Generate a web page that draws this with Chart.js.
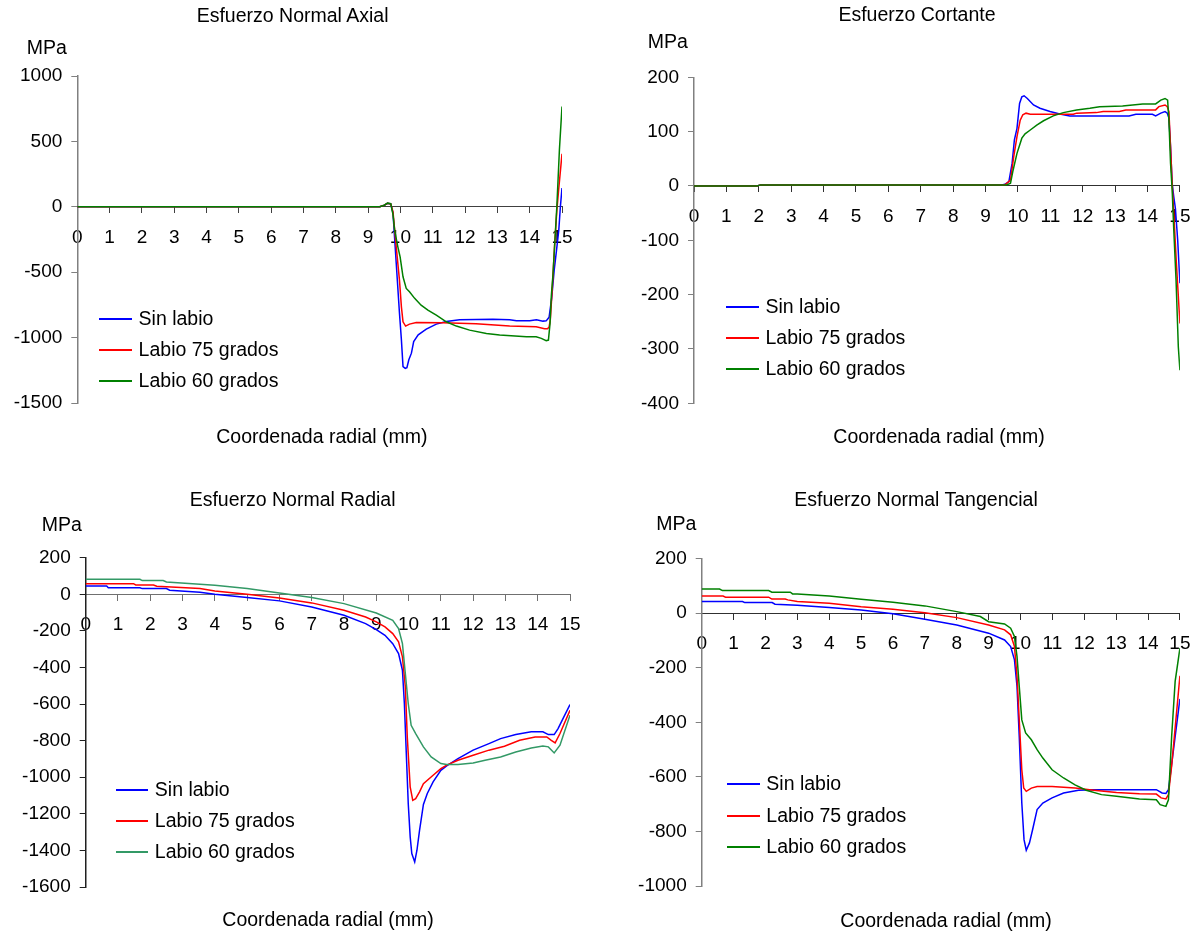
<!DOCTYPE html>
<html>
<head>
<meta charset="utf-8">
<script src="https://cdn.jsdelivr.net/npm/chart.js@4.4.1/dist/chart.umd.min.js"></script>
<style>
  html, body { margin: 0; padding: 0; background: #fff; }
  body { width: 1204px; height: 935px; position: relative; overflow: hidden;
         font-family: "Liberation Sans", Arial, sans-serif; color: #000; }
  canvas { position: absolute; }
  .txt { position: absolute; font-size: 19.5px; line-height: 1; white-space: nowrap;
         transform: translate(-50%, -50%); }
  .legtxt { position: absolute; font-size: 19.5px; line-height: 1; white-space: nowrap;
            transform: translateY(-50%); }
  .legline { position: absolute; height: 2px; transform: translateY(-50%); }
</style>
</head>
<body>
<script>
// ---- Series names ----
const seriesLabels = ['Sin labio', 'Labio 75 grados', 'Labio 60 grados'];

// ---- Esfuerzo Normal Axial (MPa vs mm) ----
const axialSinX = [0, 9.36, 9.5, 9.6, 9.7, 9.77, 9.87, 9.97, 10.03, 10.08, 10.15, 10.2, 10.26, 10.34, 10.41, 10.55, 10.8, 11.11, 11.42, 11.83, 12.86, 13.38, 13.59, 14.0, 14.21, 14.41, 14.51, 14.6, 14.68, 14.76, 14.82, 14.9, 14.95, 15.0];
const axialSinY = [0, 0, 12, 27, 22, -48, -431, -813, -1017, -1221, -1235, -1230, -1170, -1119, -1030, -979, -935, -897, -877, -864, -859, -864, -872, -872, -864, -874, -872, -845, -700, -480, -354, -180, 0, 143];
const axial75X = [0, 9.36, 9.5, 9.6, 9.7, 9.77, 9.87, 9.97, 10.03, 10.08, 10.16, 10.28, 10.49, 11.31, 12.34, 13.38, 14.2, 14.46, 14.55, 14.6, 14.64, 14.7, 14.77, 14.84, 14.9, 15.0];
const axial75Y = [0, 0, 12, 27, 22, -38, -306, -561, -765, -879, -912, -897, -884, -887, -894, -912, -917, -932, -932, -920, -860, -620, -300, -30, 140, 405];
const axial60X = [0, 9.36, 9.5, 9.6, 9.7, 9.77, 9.82, 9.92, 9.99, 10.08, 10.18, 10.28, 10.44, 10.64, 10.85, 11.11, 11.42, 11.73, 12.14, 12.66, 13.07, 13.9, 14.2, 14.36, 14.51, 14.58, 14.63, 14.67, 14.72, 14.78, 14.84, 14.92, 15.0];
const axial60Y = [0, 0, 12, 28, 24, -60, -178, -306, -383, -535, -624, -650, -700, -752, -790, -828, -879, -912, -943, -968, -981, -994, -994, -1006, -1024, -1019, -891, -680, -520, -260, 0, 436, 767];

// ---- Esfuerzo Cortante ----
const cortSinX = [0, 1.95, 2.05, 9.5, 9.6, 9.72, 9.82, 9.89, 9.97, 10.05, 10.12, 10.19, 10.29, 10.48, 10.68, 10.99, 11.29, 11.6, 12.41, 13.43, 13.64, 14.15, 14.25, 14.41, 14.54, 14.61, 14.66, 14.71, 14.76, 14.81, 14.86, 14.93, 15.0];
const cortSinY = [0, 0, 2, 2, 3, 8, 42, 85, 106, 152, 164, 166, 161, 149, 143, 137, 132.5, 129, 129, 129, 132, 132, 129, 134, 137, 134, 125, 72, 5, -20, -41, -99, -179];
const cort75X = [0, 1.95, 2.05, 9.6, 9.77, 9.87, 9.97, 10.07, 10.15, 10.25, 10.38, 10.79, 11.71, 11.81, 12.42, 12.63, 13.13, 13.33, 14.25, 14.35, 14.54, 14.61, 14.66, 14.71, 14.76, 14.81, 14.89, 15.0];
const cort75Y = [0, 0, 2, 2, 11, 54, 91, 121, 131, 134, 132, 132, 132, 134, 135, 137, 137, 140, 140, 146, 149, 146, 137, 72, 5, -50, -142, -253];
const cort60X = [0, 1.95, 2.05, 9.65, 9.77, 9.85, 9.97, 10.12, 10.22, 10.38, 10.58, 10.79, 11.09, 11.4, 11.81, 12.22, 12.52, 13.23, 13.85, 14.25, 14.41, 14.54, 14.62, 14.66, 14.71, 14.76, 14.81, 14.88, 14.95, 15.0];
const cort60Y = [0, 0, 2, 2, 5, 29, 60, 88, 96, 103, 112, 120, 129, 135, 140, 143, 146, 147, 151, 151, 158, 161, 158, 121, 42, -7, -81, -173, -296, -339];

// ---- Esfuerzo Normal Radial ----
const radSinX = [0, 0.65, 0.7, 1.68, 1.75, 2.5, 2.6, 3.54, 4.0, 5.0, 6.0, 7.0, 8.0, 8.67, 9.0, 9.27, 9.51, 9.69, 9.81, 9.87, 9.93, 9.99, 10.05, 10.1, 10.19, 10.26, 10.34, 10.46, 10.58, 10.76, 11.0, 11.18, 11.53, 12.0, 12.49, 12.85, 13.32, 13.8, 14.16, 14.33, 14.51, 14.63, 14.81, 15.0];
const radSinY = [45, 45, 36, 36, 31, 31, 22, 11, 0, -18, -36, -69, -115, -160, -193, -224, -270, -324, -415, -597, -871, -1144, -1326, -1417, -1463, -1399, -1290, -1149, -1089, -1025, -962, -938, -898, -852, -816, -789, -767, -752, -752, -767, -767, -734, -670, -603];
const rad75X = [0, 1.48, 1.55, 2.1, 2.2, 3.54, 4.0, 5.0, 6.0, 7.0, 8.0, 8.67, 9.0, 9.27, 9.51, 9.69, 9.81, 9.9, 9.96, 10.05, 10.13, 10.22, 10.34, 10.46, 10.76, 11.0, 11.18, 11.53, 12.0, 12.49, 12.97, 13.44, 13.92, 14.28, 14.42, 14.54, 14.69, 15.0];
const rad75Y = [58, 58, 51, 51, 44, 31, 18, 0, -20, -47, -87, -124, -151, -178, -215, -260, -342, -506, -780, -1053, -1126, -1117, -1080, -1035, -989, -953, -934, -907, -880, -852, -831, -798, -780, -780, -798, -812, -761, -634];
const rad60X = [0, 1.68, 1.75, 2.4, 2.5, 4.0, 5.0, 6.0, 7.0, 8.0, 9.0, 9.51, 9.69, 9.81, 9.89, 9.99, 10.08, 10.22, 10.46, 10.7, 11.0, 11.18, 11.53, 12.0, 12.37, 12.85, 13.32, 13.8, 14.16, 14.33, 14.51, 14.69, 15.0];
const rad60Y = [82, 82, 75, 75, 67, 49, 31, 7, -18, -51, -102, -142, -188, -270, -415, -597, -716, -761, -834, -889, -925, -931, -931, -922, -907, -889, -862, -840, -829, -834, -867, -825, -661];

// ---- Esfuerzo Normal Tangencial ----
const tanSinX = [0, 1.28, 1.35, 2.21, 2.3, 3.0, 4.0, 5.0, 6.0, 7.0, 8.0, 9.0, 9.5, 9.69, 9.81, 9.89, 9.96, 10.04, 10.11, 10.18, 10.28, 10.38, 10.52, 10.7, 10.99, 11.35, 11.82, 12.3, 13.48, 14.26, 14.44, 14.56, 14.64, 14.82, 15.0];
const tanSinY = [43, 43, 39, 39, 33, 29, 21, 12, -2, -22, -43, -73, -98, -122, -171, -268, -452, -696, -830, -869, -842, -793, -720, -696, -677, -659, -649, -647, -647, -647, -659, -661, -647, -480, -314];
const tan75X = [0, 0.67, 0.75, 2.1, 2.2, 2.62, 2.7, 3.0, 4.0, 5.0, 6.0, 7.0, 8.0, 9.0, 9.5, 9.69, 9.81, 9.89, 9.96, 10.04, 10.1, 10.18, 10.34, 10.52, 10.99, 11.71, 12.3, 13.01, 13.73, 14.26, 14.41, 14.56, 14.64, 14.74, 14.85, 15.0];
const tan75Y = [63, 63, 59, 59, 52, 52, 49, 43, 37, 24, 15, 2, -16, -43, -61, -79, -122, -232, -391, -574, -641, -653, -641, -635, -635, -641, -649, -657, -662, -663, -677, -681, -665, -560, -420, -229];
const tan60X = [0, 0.56, 0.65, 2.1, 2.2, 2.78, 2.85, 3.0, 4.0, 5.0, 6.0, 7.0, 8.0, 8.74, 9.0, 9.5, 9.69, 9.81, 9.89, 9.96, 10.04, 10.16, 10.34, 10.52, 10.7, 10.99, 11.35, 11.71, 12.06, 12.54, 13.01, 13.73, 14.26, 14.38, 14.56, 14.64, 14.74, 14.85, 15.0];
const tan60Y = [89, 89, 83, 83, 77, 77, 71, 71, 63, 51, 40, 27, 6, -12, -31, -39, -55, -85, -159, -268, -391, -439, -464, -500, -531, -574, -604, -629, -649, -665, -671, -681, -684, -702, -708, -684, -452, -250, -128];

// ---- Axis ranges and tick steps ----
const xRange = [0, 15];
const xStep = 1;
const axialRange = [-1500, 1000], axialStep = 500;
const cortRange = [-400, 200], cortStep = 100;
const radRange = [-1600, 200], radStep = 200;
const tanRange = [-1000, 200], tanStep = 200;

// ---- Panel layout (page pixels) ----
const FONT = '"Liberation Sans", Arial, sans-serif';
const BLUE = '#0000FF', RED = '#FF0000', GREEN = '#008000', SEAGREEN = '#339966';

const panels = [
  { title: 'Esfuerzo Normal Axial', range: axialRange, step: axialStep,
    series: [[axialSinX, axialSinY], [axial75X, axial75Y], [axial60X, axial60Y]],
    colors: [BLUE, RED, GREEN], yAxisColor: '#808080', xAxisColor: '#404040',
    ox: 0, oy: 0, w: 604, h: 468, L: 77.3, R: 562, T: 76, B: 403,
    titlePos: [292.6, 16.3], unitPos: [46.7, 47.8], xTitlePos: [321.9, 436.7],
    legend: { x0: 99.3, x1: 132, tx: 138.6, rows: [319, 350, 381] } },
  { title: 'Esfuerzo Cortante', range: cortRange, step: cortStep,
    series: [[cortSinX, cortSinY], [cort75X, cort75Y], [cort60X, cort60Y]],
    colors: [BLUE, RED, GREEN], yAxisColor: '#808080', xAxisColor: '#303030',
    ox: 600, oy: 0, w: 604, h: 468, L: 694, R: 1184, T: 77.3, B: 403.3,
    titlePos: [917, 15], unitPos: [667.8, 41.7], xTitlePos: [939, 436.7],
    legend: { x0: 726.3, x1: 758.6, tx: 765.5, rows: [307, 338, 369] } },
  { title: 'Esfuerzo Normal Radial', range: radRange, step: radStep,
    series: [[radSinX, radSinY], [rad75X, rad75Y], [rad60X, rad60Y]],
    colors: [BLUE, RED, SEAGREEN], yAxisColor: '#202020', xAxisColor: '#707070',
    ox: 0, oy: 467, w: 604, h: 468, L: 85.7, R: 570, T: 557.7, B: 887,
    titlePos: [292.6, 500], unitPos: [61.7, 525], xTitlePos: [328, 920],
    legend: { x0: 115.5, x1: 148.2, tx: 154.8, rows: [790, 821, 852] } },
  { title: 'Esfuerzo Normal Tangencial', range: tanRange, step: tanStep,
    series: [[tanSinX, tanSinY], [tan75X, tan75Y], [tan60X, tan60Y]],
    colors: [BLUE, RED, GREEN], yAxisColor: '#808080', xAxisColor: '#303030',
    ox: 600, oy: 467, w: 604, h: 468, L: 701.7, R: 1188, T: 558.7, B: 886,
    titlePos: [916, 500], unitPos: [676.3, 524.2], xTitlePos: [946, 921.3],
    legend: { x0: 727, x1: 759.8, tx: 766.3, rows: [784, 816, 847] } }
];

// width reserved for the y tick labels (their drawing is clipped to this box)
const Y_AXIS_WIDTH = 76;

function addText(cls, text, x, y) {
  const d = document.createElement('div');
  d.className = cls;
  d.textContent = text;
  d.style.left = x + 'px';
  d.style.top = y + 'px';
  document.body.appendChild(d);
  return d;
}

function buildPanel(p) {
  const cv = document.createElement('canvas');
  cv.width = p.w; cv.height = p.h;
  cv.style.left = p.ox + 'px';
  cv.style.top = p.oy + 'px';
  document.body.appendChild(cv);

  const datasets = p.series.map((s, i) => ({
    label: seriesLabels[i],
    data: s[0].map((x, j) => ({ x: x, y: s[1][j] })),
    borderColor: p.colors[i],
    backgroundColor: p.colors[i],
    borderWidth: 1.5,
    pointRadius: 0,
    tension: 0,
    fill: false,
    order: p.series.length - 1 - i   // later series painted on top
  }));

  const tickFont = { family: FONT, size: 19 };
  const yw = Math.min(Y_AXIS_WIDTH, p.L - p.ox - 1);

  const chart = new Chart(cv, {
    type: 'line',
    data: { datasets: datasets },
    options: {
      responsive: false,
      animation: false,
      events: [],
      layout: { padding: {
        left: p.L - p.ox - yw,
        right: p.ox + p.w - p.R,
        top: p.T - p.oy,
        bottom: p.oy + p.h - p.B } },
      plugins: { legend: { display: false }, title: { display: false }, tooltip: { enabled: false } },
      scales: {
        x: {
          type: 'linear', min: xRange[0], max: xRange[1],
          position: { y: 0 },
          afterFit: (s) => { s.height = 0; },
          ticks: { stepSize: xStep, autoSkip: false, maxRotation: 0, padding: 13.5,
                   color: '#000', font: tickFont, callback: (v) => String(v) },
          grid: { display: true, drawOnChartArea: false, drawTicks: true, tickLength: 6,
                  color: p.xAxisColor, tickColor: p.xAxisColor, lineWidth: 1 },
          border: { display: true, color: p.xAxisColor, width: 1 }
        },
        y: {
          type: 'linear', min: p.range[0], max: p.range[1], position: 'left',
          afterFit: (s) => { s.width = yw; },
          ticks: { stepSize: p.step, autoSkip: false, padding: 9,
                   color: '#000', font: tickFont, callback: (v) => String(v) },
          grid: { display: true, drawOnChartArea: false, drawTicks: true, tickLength: 6,
                  color: p.yAxisColor, tickColor: p.yAxisColor, lineWidth: 1 },
          border: { display: true, color: p.yAxisColor, width: 1.5 }
        }
      }
    }
  });

  addText('txt', p.title, p.titlePos[0], p.titlePos[1]);
  addText('txt', 'MPa', p.unitPos[0], p.unitPos[1]);
  addText('txt', 'Coordenada radial (mm)', p.xTitlePos[0], p.xTitlePos[1]);

  // legend built from the chart's own datasets
  chart.data.datasets.forEach((ds, i) => {
    const y = p.legend.rows[i];
    const line = document.createElement('div');
    line.className = 'legline';
    line.style.left = p.legend.x0 + 'px';
    line.style.top = y + 'px';
    line.style.width = (p.legend.x1 - p.legend.x0) + 'px';
    line.style.background = ds.borderColor;
    document.body.appendChild(line);
    addText('legtxt', ds.label, p.legend.tx, y);
  });
}

panels.forEach(buildPanel);
</script>
</body>
</html>
